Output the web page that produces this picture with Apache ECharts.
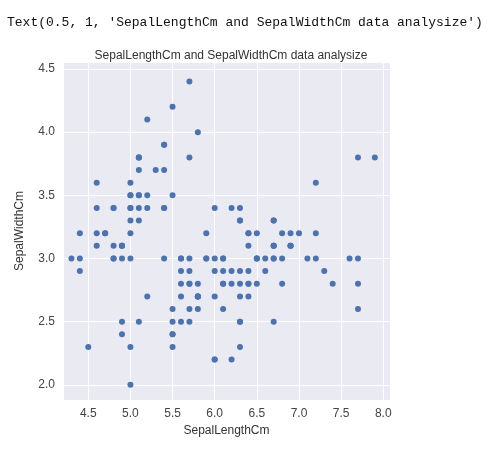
<!DOCTYPE html>
<html>
<head>
<meta charset="utf-8">
<script src="https://cdn.jsdelivr.net/npm/echarts@6/dist/echarts.min.js"></script>
<style>html,body{margin:0;padding:0;background:#fff}#main{width:494px;height:449px}</style>
</head>
<body>
<div id="main"></div>
<script>
var sepalLength = [
  5.1,4.9,4.7,4.6,5.0,5.4,4.6,5.0,4.4,4.9,5.4,4.8,4.8,4.3,5.8,5.7,5.4,5.1,5.7,5.1,5.4,5.1,4.6,5.1,4.8,5.0,5.0,5.2,5.2,4.7,4.8,5.4,5.2,5.5,4.9,5.0,5.5,4.9,4.4,5.1,5.0,4.5,4.4,5.0,5.1,4.8,5.1,4.6,5.3,5.0,
  7.0,6.4,6.9,5.5,6.5,5.7,6.3,4.9,6.6,5.2,5.0,5.9,6.0,6.1,5.6,6.7,5.6,5.8,6.2,5.6,5.9,6.1,6.3,6.1,6.4,6.6,6.8,6.7,6.0,5.7,5.5,5.5,5.8,6.0,5.4,6.0,6.7,6.3,5.6,5.5,5.5,6.1,5.8,5.0,5.6,5.7,5.7,6.2,5.1,5.7,
  6.3,5.8,7.1,6.3,6.5,7.6,4.9,7.3,6.7,7.2,6.5,6.4,6.8,5.7,5.8,6.4,6.5,7.7,7.7,6.0,6.9,5.6,7.7,6.3,6.7,7.2,6.2,6.1,6.4,7.2,7.4,7.9,6.4,6.3,6.1,7.7,6.3,6.4,6.0,6.9,6.7,6.9,5.8,6.8,6.7,6.7,6.3,6.5,6.2,5.9
];
var sepalWidth = [
  3.5,3.0,3.2,3.1,3.6,3.9,3.4,3.4,2.9,3.1,3.7,3.4,3.0,3.0,4.0,4.4,3.9,3.5,3.8,3.8,3.4,3.7,3.6,3.3,3.4,3.0,3.4,3.5,3.4,3.2,3.1,3.4,4.1,4.2,3.1,3.2,3.5,3.1,3.0,3.4,3.5,2.3,3.2,3.5,3.8,3.0,3.8,3.2,3.7,3.3,
  3.2,3.2,3.1,2.3,2.8,2.8,3.3,2.4,2.9,2.7,2.0,3.0,2.2,2.9,2.9,3.1,3.0,2.7,2.2,2.5,3.2,2.8,2.5,2.8,2.9,3.0,2.8,3.0,2.9,2.6,2.4,2.4,2.7,2.7,3.0,3.4,3.1,2.3,3.0,2.5,2.6,3.0,2.6,2.3,2.7,3.0,2.9,2.9,2.5,2.8,
  3.3,2.7,3.0,2.9,3.0,3.0,2.5,2.9,2.5,3.6,3.2,2.7,3.0,2.5,2.8,3.2,3.0,3.8,2.6,2.2,3.2,2.8,2.8,2.7,3.3,3.2,2.8,3.0,2.8,3.0,2.8,3.8,2.8,2.8,2.6,3.0,3.4,3.1,3.0,3.1,3.1,3.1,2.7,3.2,3.3,3.0,2.5,3.0,3.4,3.0
];

var chart = echarts.init(document.getElementById('main'));
var points = sepalLength.map(function (v, i) { return [v, sepalWidth[i]]; });
var labelStyle = { color: '#444', fontSize: 12, fontFamily: 'Liberation Sans' };

var option = {
  backgroundColor: '#fff',
  animation: false,
  title: [
    {
      text: "Text(0.5, 1, 'SepalLengthCm and SepalWidthCm data analysize')",
      left: 2, top: 11,
      textStyle: { fontFamily: 'Liberation Mono', fontSize: 13, fontWeight: 'normal', color: '#111' }
    },
    {
      text: 'SepalLengthCm and SepalWidthCm data analysize',
      left: 226, top: 45, textAlign: 'center',
      textStyle: { fontFamily: 'Liberation Sans', fontSize: 12, fontWeight: 'normal', color: '#333' }
    }
  ],
  grid: { left: 63, right: 104, top: 62, bottom: 49, show: true, backgroundColor: '#eaeaf2', borderWidth: 0 },
  xAxis: {
    type: 'value', min: 4.2, max: 8.08, splitNumber: 7,
    name: 'SepalLengthCm', nameLocation: 'middle', nameGap: 22,
    nameTextStyle: { color: '#333', fontSize: 12, fontFamily: 'Liberation Sans' },
    axisLine: { show: false }, axisTick: { show: false },
    axisLabel: Object.assign({ showMinLabel: false, showMaxLabel: false, formatter: function (v) { return v.toFixed(1); } }, labelStyle),
    splitLine: { lineStyle: { color: '#fff', width: 1 } }
  },
  yAxis: {
    type: 'value', min: 1.88, max: 4.555, splitNumber: 5,
    name: 'SepalWidthCm', nameLocation: 'middle', nameGap: 37,
    nameTextStyle: { color: '#333', fontSize: 12, fontFamily: 'Liberation Sans' },
    axisLine: { show: false }, axisTick: { show: false },
    axisLabel: Object.assign({ showMinLabel: false, showMaxLabel: false, formatter: function (v) { return v.toFixed(1); } }, labelStyle),
    splitLine: { lineStyle: { color: '#fff', width: 1 } }
  },
  series: [{
    type: 'scatter',
    data: points,
    symbolSize: 6,
    itemStyle: { color: '#4c72b0', opacity: 1 }
  }]
};
chart.setOption(option);
</script>
</body>
</html>
